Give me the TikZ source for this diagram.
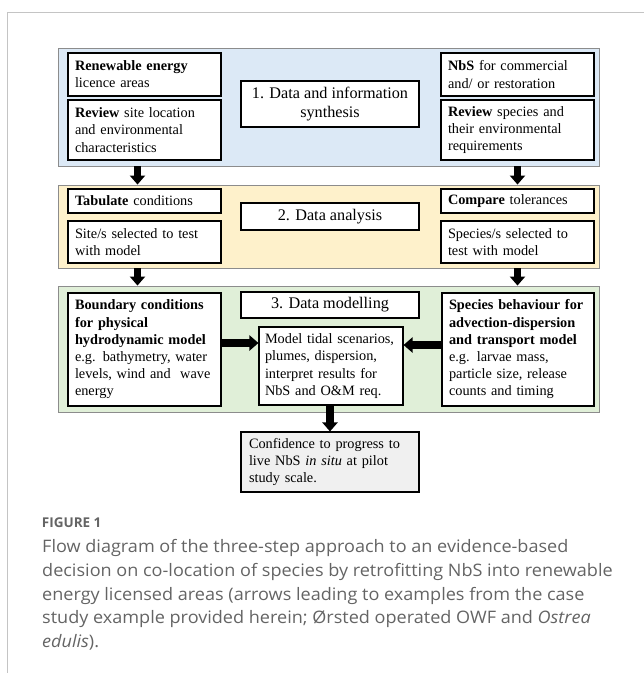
\documentclass[tikz,border=0pt]{standalone}
\usepackage{fontspec}
\setmainfont{Liberation Serif}
\newfontfamily\capfont[FakeStretch=1.05]{Open Sans}
\newfontfamily\figfont{Open Sans}
\usetikzlibrary{arrows.meta,calc}
\definecolor{pblue}{HTML}{DCE9F6}
\definecolor{pyellow}{HTML}{FEF1CB}
\definecolor{pgreen}{HTML}{E0EFD8}
\definecolor{cgray}{HTML}{F0F0F0}
\definecolor{panelgray}{HTML}{8C8C8C}
\definecolor{framegray}{HTML}{C4C4C4}
\definecolor{captext}{HTML}{646464}
\tikzset{
  panel/.style={draw=panelgray, line width=0.9pt, inner sep=0pt, minimum width=541pt},
  bx/.style={draw=black, line width=1.1pt, fill=white, align=left, inner xsep=7pt, inner ysep=1pt,
             font=\fontsize{14.3}{17.2}\selectfont},
  cbx/.style={draw=black, line width=1.1pt, fill=white, align=center, inner sep=0pt,
             minimum width=178pt, font=\fontsize{16.2}{19.5}\selectfont},
  bigarrow/.style={line width=7.5pt, -{Triangle[width=15pt,length=9pt]}},
  captxt/.style={anchor=base west, inner sep=0pt, text=captext, font=\capfont\fontsize{17.2}{23.8}\selectfont},
}
\begin{document}
\begin{tikzpicture}[x=1pt,y=-1pt]
\useasboundingbox (0,0) rectangle (644,673);
% outer frame
\draw[framegray, line width=1.5pt] (644,12.7) -- (7.3,12.7) -- (7.3,673);
% panels
\node[panel, fill=pblue, minimum height=118pt] (blue) at (328.5,107) {};
\node[panel, fill=pyellow, minimum height=83pt] (yellow) at (328.5,226.5) {};
\node[panel, fill=pgreen, minimum height=126pt] (green) at (328.5,349) {};
% step 1
\node[bx, text width=139pt, minimum height=43pt] (ren) at (144.5,74.5)
  {\textbf{Renewable energy}\\licence areas};
\node[bx, text width=139pt, minimum height=60pt] (revsite) at (144.5,130)
  {\textbf{Review} site location\\and environmental\\characteristics};
\node[cbx, minimum height=46pt] (c1) at (330,104) {1. Data and information\\synthesis};
\node[bx, text width=139pt, minimum height=43pt] (nbs) at (517.5,74.5)
  {\textbf{NbS} for commercial\\and/ or restoration};
\node[bx, text width=139pt, minimum height=60pt] (revsp) at (517.5,130)
  {\textbf{Review} species and\\their environmental\\requirements};
% step 2
\node[bx, text width=139pt, minimum height=24pt] (tab) at (144.5,201)
  {\textbf{Tabulate} conditions};
\node[bx, text width=139pt, minimum height=42pt] (site) at (144.5,242)
  {Site/s selected to test\\with model};
\node[cbx, minimum height=27pt] (c2) at (330,216.5) {2. Data analysis};
\node[bx, text width=139pt, minimum height=24pt] (cmp) at (517.5,201)
  {\textbf{Compare} tolerances};
\node[bx, text width=139pt, minimum height=42pt] (spsel) at (517.5,242)
  {Species/s selected to\\test with model};
% step 3
\node[bx, text width=139pt, minimum height=113pt] (bnd) at (144.5,349.5)
  {\textbf{Boundary conditions}\\\textbf{for physical}\\\textbf{hydrodynamic model}\\e.g. bathymetry, water\\levels, wind and\ \ wave\\energy};
\node[cbx, minimum height=26pt] (c3) at (330,305) {3. Data modelling};
\node[bx, inner xsep=6pt, text width=132pt, minimum height=78pt] (mod) at (331,366)
  {Model tidal scenarios,\\plumes, dispersion,\\interpret results for\\NbS and O\&M req.};
\node[bx, text width=138pt, minimum height=113pt] (spb) at (518,349.5)
  {\textbf{Species behaviour for}\\\textbf{advection-dispersion}\\\textbf{and transport model}\\e.g. larvae mass,\\particle size, release\\counts and timing};
% outcome
\node[bx, fill=cgray, inner xsep=8pt, text width=162pt, minimum height=60pt] (conf) at (330,462)
  {Confidence to progress to\\live NbS \textit{in situ} at pilot\\study scale.};
% arrows
\draw[bigarrow] ($(revsite.south |- blue.south)+(-7,0)$) -- ($(revsite.south |- yellow.north)+(-7,0)$);
\draw[bigarrow] (revsp.south |- blue.south) -- (revsp.south |- yellow.north);
\draw[bigarrow] ($(site.south |- yellow.south)+(-7,0)$) -- ($(site.south |- green.north)+(-7,0)$);
\draw[bigarrow] (spsel.south |- yellow.south) -- (spsel.south |- green.north);
\coordinate (h1) at ($(bnd.east)+(0,-6.5)$);
\draw[bigarrow] (h1) -- (h1 -| mod.west);
\coordinate (h2) at ($(spb.west)+(0,-4.5)$);
\draw[bigarrow] (h2) -- (h2 -| mod.east);
\draw[bigarrow] (conf.north |- mod.south) -- (conf.north);
% caption
\node[anchor=base west, inner sep=0pt, text=captext, font=\figfont\bfseries\fontsize{13.5}{16}\selectfont] (fig) at (41.7,527.7) {FIGURE 1};
\node[captxt] (cap1) at (42,552.5) {Flow diagram of the three-step approach to an evidence-based};
\node[captxt] (cap2) at (42,576.3) {decision on co-location of species by retrofitting NbS into renewable};
\node[captxt] (cap3) at (42,600.1) {energy licensed areas (arrows leading to examples from the case};
\node[captxt] (cap4) at (42,623.9) {study example provided herein; Ørsted operated OWF and \textit{Ostrea}};
\node[captxt] (cap5) at (42,647.7) {\textit{edulis}).};
\end{tikzpicture}
\end{document}
